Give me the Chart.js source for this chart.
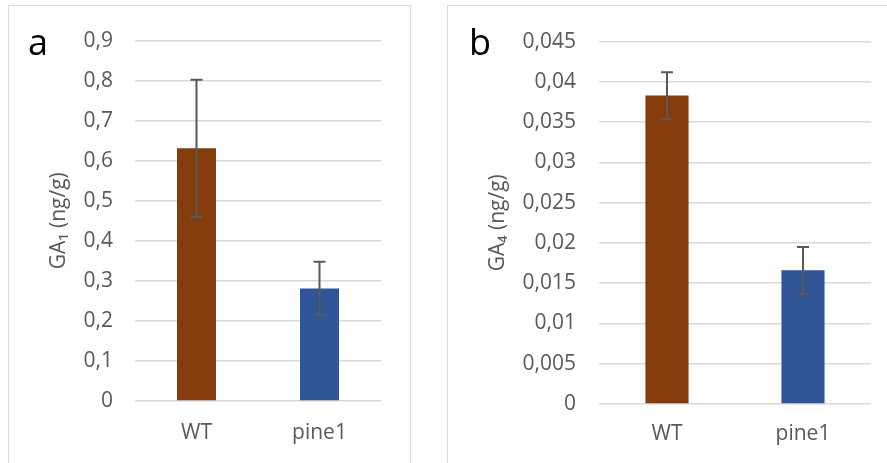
<!DOCTYPE html>
<html>
<head>
<meta charset="utf-8">
<script src="https://cdn.jsdelivr.net/npm/chart.js@4.4.1/dist/chart.umd.min.js"></script>
<style>
  html, body { margin: 0; padding: 0; background: #fff; overflow: hidden; }
  body { width: 887px; height: 463px; position: relative; font-family: "Open Sans", sans-serif; }
  .panel { position: absolute; top: 5px; border: 1px solid #d9d9d9; background: #fff; }
  #panelA { left: 8px; width: 401px; height: 460px; }
  #panelB { left: 447px; width: 460px; height: 460px; }
  .panel canvas { position: absolute; left: 0; top: 0; }
  .tag { position: absolute; font-size: 36px; color: #000; line-height: 1; }
</style>
</head>
<body>
<div class="panel" id="panelA">
  <canvas id="chartA" width="401" height="456"></canvas>
  <div class="tag" style="left:19px; top:18px;">a</div>
</div>
<div class="panel" id="panelB">
  <canvas id="chartB" width="437" height="456"></canvas>
  <div class="tag" style="left:21px; top:18px;">b</div>
</div>
<script>
// Genotypes
const categories = ['WT', 'pine1'];
const barColors = ['#843C0C', '#2F5597'];

// GA1 content (ng/g) with error
const ga1Values = [0.631, 0.281];
const ga1Errors = [0.171, 0.067];
const ga1Ticks = [0, 0.1, 0.2, 0.3, 0.4, 0.5, 0.6, 0.7, 0.8, 0.9];

// GA4 content (ng/g) with error
const ga4Values = [0.0383, 0.0166];
const ga4Errors = [0.0029, 0.0029];
const ga4Ticks = [0, 0.005, 0.01, 0.015, 0.02, 0.025, 0.03, 0.035, 0.04, 0.045];

const FONT = '"Open Sans", sans-serif';
const TEXT = '#595959';

// Vertical error bars with caps, positioned through the value scale
const errorBars = {
  id: 'errorBars',
  afterDatasetsDraw(chart, args, opts) {
    const meta = chart.getDatasetMeta(0);
    const ys = chart.scales.y;
    const ctx = chart.ctx;
    const vals = chart.data.datasets[0].data;
    ctx.save();
    ctx.strokeStyle = '#595959';
    ctx.lineWidth = 2;
    meta.data.forEach((bar, i) => {
      const e = opts.errors[i];
      const yTop = ys.getPixelForValue(vals[i] + e);
      const yBot = ys.getPixelForValue(vals[i] - e);
      const x = bar.x;
      ctx.beginPath();
      ctx.moveTo(x, yTop); ctx.lineTo(x, yBot);
      ctx.moveTo(x - 6, yTop); ctx.lineTo(x + 6, yTop);
      ctx.moveTo(x - 6, yBot); ctx.lineTo(x + 6, yBot);
      ctx.stroke();
    });
    ctx.restore();
  }
};

function fmt(v) {
  return String(+Number(v).toFixed(4)).replace('.', ',');
}

function makeChart(id, values, errors, ticks, title, geom) {
  return new Chart(document.getElementById(id), {
    type: 'bar',
    data: {
      labels: categories,
      datasets: [{
        data: values,
        backgroundColor: barColors,
        categoryPercentage: 1,
        barPercentage: 0.317
      }]
    },
    options: {
      responsive: false,
      animation: false,
      events: [],
      layout: { padding: { top: geom.top, right: geom.right, left: 0, bottom: 0 } },
      plugins: {
        legend: { display: false },
        tooltip: { enabled: false },
        errorBars: { errors: errors }
      },
      scales: {
        x: {
          grid: { display: false, drawTicks: false },
          border: { display: false },
          ticks: { color: TEXT, font: { family: FONT, size: 21 }, padding: geom.xPad },
          afterFit(s) { s.height = geom.xHeight; }
        },
        y: {
          min: ticks[0],
          max: ticks[ticks.length - 1],
          afterBuildTicks(s) { s.ticks = ticks.map(v => ({ value: v })); },
          grid: { color: '#d9d9d9', lineWidth: 1.5, drawTicks: false },
          border: { display: false },
          ticks: {
            color: TEXT,
            font: { family: FONT, size: 21 },
            padding: geom.yPad,
            callback: (v) => fmt(v)
          },
          title: {
            display: true,
            text: title,
            color: TEXT,
            font: { family: FONT, size: 21 },
            padding: { top: geom.titlePad, bottom: 0 }
          },
          afterFit(s) { s.width = geom.yWidth; }
        }
      }
    },
    plugins: [errorBars]
  });
}

makeChart('chartA', ga1Values, ga1Errors, ga1Ticks, 'GA\u2081 (ng/g)',
  { top: 28.5, right: 29, xHeight: 61, xPad: 19, yWidth: 126, yPad: 22, titlePad: 37 });
makeChart('chartB', ga4Values, ga4Errors, ga4Ticks, 'GA\u2084 (ng/g)',
  { top: 28.5, right: 14, xHeight: 58, xPad: 17, yWidth: 151, yPad: 23, titlePad: 37 });
</script>
</body>
</html>
